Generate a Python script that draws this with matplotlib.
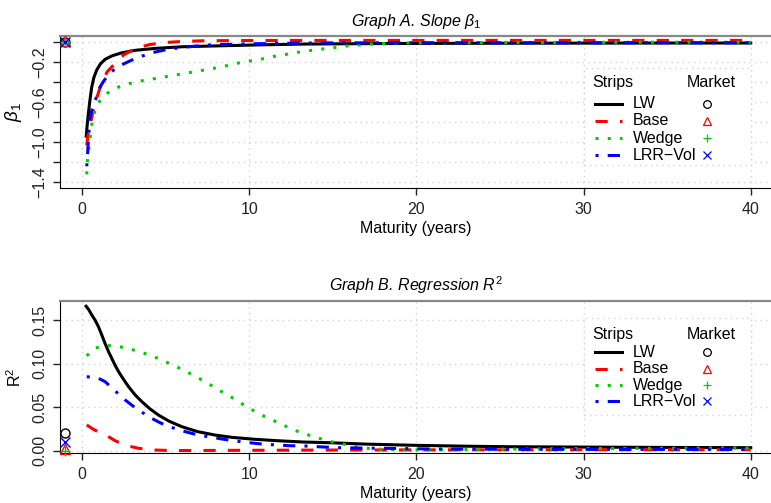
import matplotlib.pyplot as plt
from matplotlib.patches import Rectangle

plt.rcParams['font.family'] = ['Liberation Sans', 'DejaVu Sans']
plt.rcParams['mathtext.fontset'] = 'custom'
plt.rcParams['mathtext.rm'] = 'Liberation Sans'
plt.rcParams['mathtext.it'] = 'Liberation Sans:italic'

# ---- Graph A: slope beta_1 ----
a_lw_x = [0.25, 0.3, 0.38, 0.48, 0.58, 0.7, 0.88, 1.1, 1.38, 1.8, 2.38, 3.2, 4.4, 6, 8.4, 11, 13.4, 17, 20, 25, 30, 35, 40]
a_lw_y = [-0.94, -0.84, -0.71, -0.57, -0.45, -0.36, -0.28, -0.22, -0.175, -0.14, -0.11, -0.085, -0.066, -0.05,
          -0.04, -0.03, -0.023, -0.019, -0.017, -0.015, -0.014, -0.013, -0.013]
a_base_x = [0.28, 0.4, 0.58, 0.8, 1.17, 1.5, 1.98, 2.5, 3.2, 4.0, 4.8, 6, 7.4, 10, 15, 20, 30, 40]
a_base_y = [-1.03, -0.88, -0.75, -0.6, -0.41, -0.3, -0.215, -0.13, -0.066, -0.03, -0.01, 0.003, 0.01, 0.012,
            0.013, 0.013, 0.013, 0.013]
a_wedge_x = [0.28, 0.31, 0.4, 0.48, 0.54, 0.68, 0.88, 1.28, 1.88, 2.51, 3.2, 3.9, 4.6, 5.3, 5.97, 6.67, 7.35,
             8.05, 8.75, 9.4, 10.1, 10.8, 11.46, 12.2, 12.86, 13.55, 14.2, 14.9, 15.6, 16.3, 17.0, 17.7, 18.4,
             19.5, 22, 25, 30, 35, 40]
a_wedge_y = [-1.32, -1.2, -1.07, -0.97, -0.86, -0.74, -0.63, -0.54, -0.47, -0.43, -0.40, -0.38, -0.36, -0.34,
             -0.32, -0.30, -0.28, -0.26, -0.235, -0.21, -0.19, -0.17, -0.146, -0.126, -0.106, -0.09, -0.076,
             -0.063, -0.046, -0.036, -0.026, -0.02, -0.015, -0.012, -0.01, -0.008, -0.006, -0.005, -0.005]
a_lrr_x = [0.28, 0.33, 0.4, 0.48, 0.6, 0.74, 0.9, 1.08, 1.3, 1.58, 1.9, 2.37, 3.2, 4.17, 5.0, 5.97, 7.77, 10.4,
           14, 20, 30, 40]
a_lrr_y = [-1.24, -1.12, -0.92, -0.75, -0.67, -0.61, -0.53, -0.45, -0.39, -0.33, -0.28, -0.23, -0.165, -0.11,
           -0.08, -0.056, -0.03, -0.02, -0.012, -0.01, -0.01, -0.01]
a_market = [-0.005, 0.01, -0.003, 0.0]   # LW, Base, Wedge, LRR-Vol

# ---- Graph B: regression R^2 ----
b_lw_x = [0.24, 0.4, 0.58, 0.78, 0.98, 1.18, 1.38, 1.58, 1.78, 1.98, 2.18, 2.48, 2.78, 3.18, 3.58, 4.07, 4.57,
          5.2, 5.97, 6.9, 7.96, 9.0, 10.36, 11.8, 13.25, 14.85, 17, 20, 23, 25.6, 30, 35, 40]
b_lw_y = [0.166, 0.162, 0.156, 0.150, 0.1425, 0.133, 0.123, 0.114, 0.106, 0.098, 0.091, 0.082, 0.0736, 0.064,
          0.0563, 0.048, 0.041, 0.034, 0.0276, 0.022, 0.018, 0.0153, 0.0131, 0.0114, 0.0100, 0.0092, 0.0076,
          0.0062, 0.0052, 0.0046, 0.0042, 0.0038, 0.0035]
b_base_x = [0.28, 0.68, 1.1, 1.58, 1.98, 2.38, 2.78, 3.38, 4.37, 5.4, 7, 10, 15, 20, 30, 40]
b_base_y = [0.0296, 0.0246, 0.0205, 0.0161, 0.0115, 0.0082, 0.0054, 0.0028, 0.0008, 0.0002, 0.0003, 0.0005,
            0.0008, 0.001, 0.0012, 0.0012]
b_wedge_x = [0.28, 0.78, 1.44, 2.13, 2.83, 3.5, 4.17, 4.8, 5.47, 6.09, 6.72, 7.32, 7.92, 8.52, 9.16, 9.72, 10.3,
             10.96, 11.6, 12.25, 12.9, 13.55, 14.2, 14.9, 15.6, 16.3, 16.95, 17.6, 18.3, 19.7, 22, 25, 30, 35, 40]
b_wedge_y = [0.109, 0.118, 0.121, 0.120, 0.117, 0.1134, 0.109, 0.104, 0.098, 0.0924, 0.086, 0.0797, 0.0728,
             0.066, 0.059, 0.052, 0.0456, 0.039, 0.0333, 0.0276, 0.0222, 0.018, 0.0142, 0.0104, 0.0077, 0.005,
             0.003, 0.002, 0.0013, 0.001, 0.0012, 0.0018, 0.0025, 0.0028, 0.003]
b_lrr_x = [0.28, 0.6, 0.98, 1.38, 1.88, 2.2, 2.58, 2.98, 3.38, 3.78, 4.17, 4.57, 4.97, 5.47, 5.97, 6.47, 6.97,
           7.77, 8.75, 9.76, 10.76, 12.35, 13.35, 15.25, 17, 19.3, 20.9, 25, 30, 35, 40]
b_lrr_y = [0.085, 0.0845, 0.0832, 0.0793, 0.0706, 0.0648, 0.0583, 0.0523, 0.0468, 0.0418, 0.0372, 0.0331,
           0.0295, 0.0261, 0.023, 0.0204, 0.018, 0.0154, 0.0123, 0.0097, 0.0077, 0.0058, 0.0054, 0.0035, 0.003,
           0.0025, 0.002, 0.0017, 0.0015, 0.0015, 0.0015]
b_market = [0.020, 0.002, 0.0, 0.0103]

market_x = -1
names = ['LW', 'Base', 'Wedge', 'LRR\u2212Vol']
colors = ['black', '#ff0000', '#00cd00', '#0000ff']
dashes = [None, (4, 4), (1, 3), (1, 3, 4, 3)]
markers = ['o', '^', '+', 'x']
LW = 2.2
FS = 11.5

fig = plt.figure(figsize=(7.71, 5.03), dpi=100)
W, H = 771, 503


def make_axes(top, bottom):
    return fig.add_axes([60 / W, 1 - bottom / H, 1 - 60 / W + 0.001, (bottom - top) / H])


def style(ax, ylim, yticks, ylabels, box):
    ax.set_xlim(-1.32, 41.26)
    ax.set_ylim(*ylim)
    ax.set_xticks([0, 10, 20, 30, 40])
    ax.set_yticks(yticks)
    ax.set_yticklabels(ylabels, rotation=90, va='center')
    ax.grid(True, color='#d3d3d3', linestyle=(0, (1, 3)), linewidth=1, zorder=0)
    ax.set_axisbelow(True)
    ax.tick_params(direction='out', length=5, width=1, labelsize=FS, pad=5, colors='#222222')
    ax.tick_params(axis='y', pad=4)
    ax.spines['right'].set_visible(False)
    ax.spines['top'].set_color('#888888')
    ax.spines['top'].set_linewidth(1.6)
    ax.set_xlabel('Maturity (years)', fontsize=FS)
    ax.xaxis.set_label_coords(0.5, -0.22)
    # legend background box
    ax.add_patch(Rectangle((30, box[0]), 10, box[1] - box[0], facecolor='white', edgecolor='#d3d3d3',
                           linestyle=(0, (1, 3)), linewidth=1, zorder=1))


def draw(ax, series, market, rows):
    for (xs, ys), c, d in zip(series, colors, dashes):
        line, = ax.plot(xs, ys, color=c, lw=LW, zorder=3)
        if d is not None:
            line.set_dashes(d)
    for m, y, c in zip(markers, market, colors):
        ax.plot(market_x, y, marker=m, color=c, markerfacecolor='none', markersize=6.5, mew=1.0,
                linestyle='none', zorder=4, clip_on=False)
    # hand-made legend: strips lines on the left, market markers on the right
    tr = ax.transAxes
    ax.text(0.748, rows[0], 'Strips', transform=tr, fontsize=FS, va='center', ha='left', zorder=5)
    ax.text(0.880, rows[0], 'Market', transform=tr, fontsize=FS, va='center', ha='left', zorder=5)
    for i, (n, c, d, m) in enumerate(zip(names, colors, dashes, markers)):
        y = rows[i + 1]
        ln, = ax.plot([0.751, 0.789], [y, y], transform=tr, color=c, lw=LW, zorder=5)
        if d is not None:
            ln.set_dashes(d)
        ax.text(0.805, y, n, transform=tr, fontsize=FS, va='center', ha='left', zorder=5)
        ax.plot([0.909], [y], transform=tr, marker=m, color=c, markerfacecolor='none', markersize=5.5,
                mew=0.9, linestyle='none', zorder=5)


axA = make_axes(36, 188)
style(axA, (-1.456, 0.057), [-1.4, -1.2, -1.0, -0.8, -0.6, -0.4, -0.2, 0.0],
      ['\u22121.4', '', '\u22121.0', '', '\u22120.6', '', '\u22120.2', ''], (-1.227, -0.262))
draw(axA, [(a_lw_x, a_lw_y), (a_base_x, a_base_y), (a_wedge_x, a_wedge_y), (a_lrr_x, a_lrr_y)],
     a_market, [0.691, 0.555, 0.441, 0.327, 0.217])
axA.set_title(r'Graph A. Slope $\beta_{\mathit{1}}$', fontsize=FS, style='italic', pad=7)
axA.set_ylabel(r'$\beta_{\mathit{1}}$', fontsize=13.5)
axA.yaxis.set_label_coords(-0.05, 0.5)

axB = make_axes(301, 453)
style(axB, (-0.0026, 0.172), [0.0, 0.05, 0.10, 0.15], ['0.00', '0.05', '0.10', '0.15'], (0.041, 0.1525))
draw(axB, [(b_lw_x, b_lw_y), (b_base_x, b_base_y), (b_wedge_x, b_wedge_y), (b_lrr_x, b_lrr_y)],
     b_market, [0.780, 0.662, 0.553, 0.447, 0.342])
axB.set_title(r'Graph B. Regression $\mathit{R}^{\mathit{2}}$', fontsize=FS, style='italic', pad=7)
axB.set_ylabel(r'R$^2$', fontsize=FS)
axB.yaxis.set_label_coords(-0.05, 0.5)

fig.savefig('out.png', dpi=100)
